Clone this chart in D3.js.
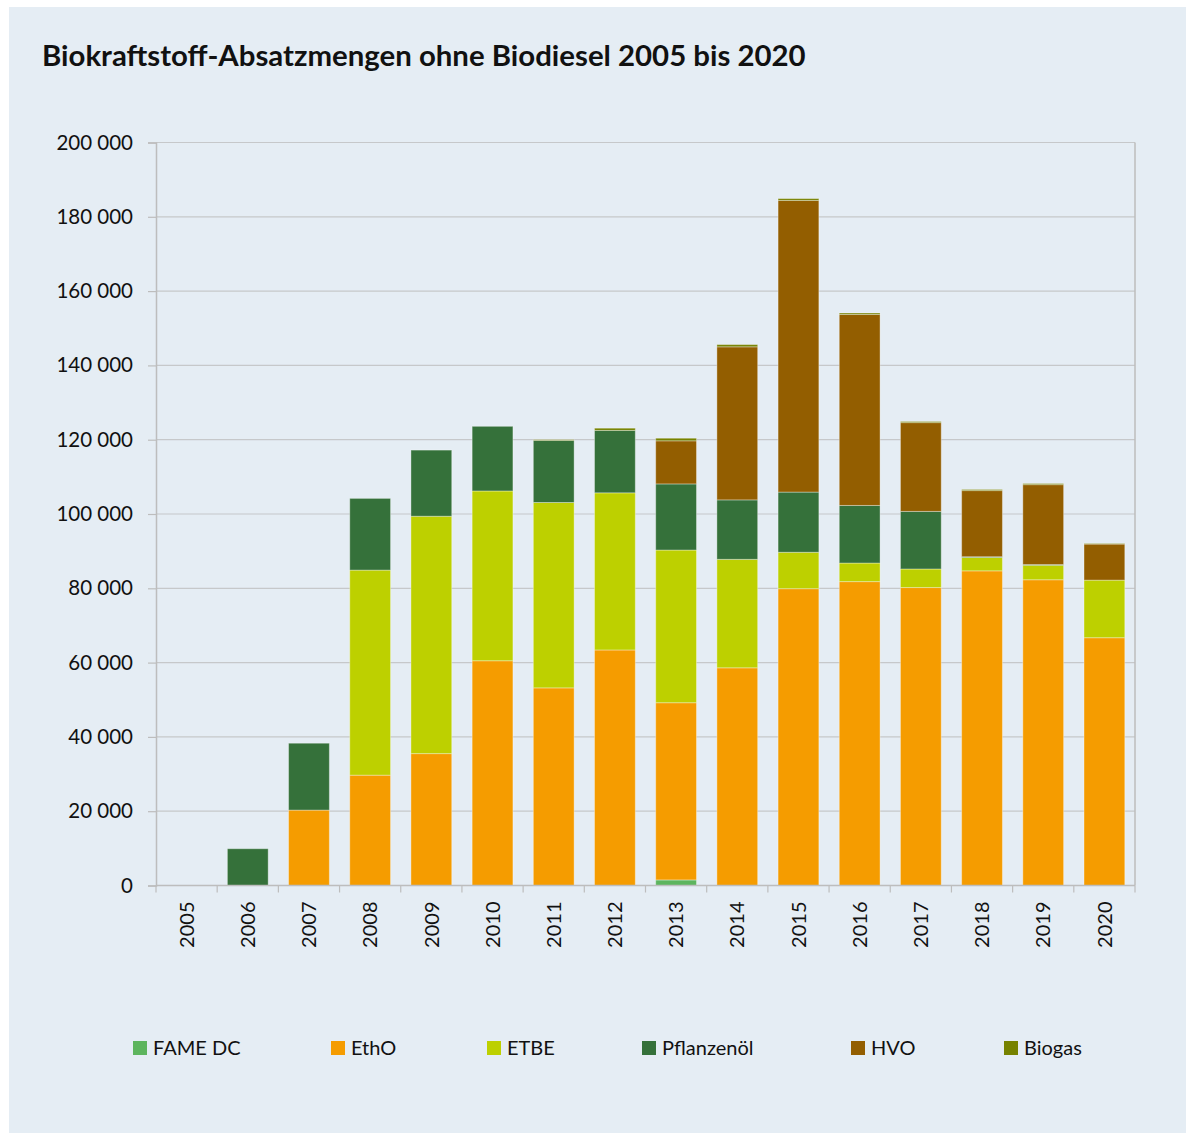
<!DOCTYPE html>
<html>
<head>
<meta charset="utf-8">
<script src="https://cdn.jsdelivr.net/npm/d3@7"></script>
<style>
  body { margin: 0; background: #fff; }
  svg { display: block; }
</style>
</head>
<body>
<div id="chart"></div>
<script>
// colours
const PANEL_BG = "#e5edf4"
const GRID = "#c6c8ca"
const AXIS = "#bdbdbd"
const TEXT = "#111"

const FAME_COL = "#5db55e"
const ETHO_COL = "#f59c00"
const ETBE_COL = "#bdd000"
const PFL_COL = "#35713a"
const HVO_COL = "#935e00"
const BIOGAS_COL = "#768200"

// data
var years = ["2005", "2006", "2007", "2008", "2009", "2010", "2011", "2012",
             "2013", "2014", "2015", "2016", "2017", "2018", "2019", "2020"];
var fameDC = [0, 0, 0, 0, 0, 0, 0, 0, 1500, 0, 0, 0, 0, 0, 0, 0];
var ethO = [0, 0, 20300, 29700, 35500, 60500, 53200, 63400, 47700, 58600, 79900, 81800, 80200, 84700, 82300, 66700];
var etbe = [0, 0, 0, 55200, 63900, 45700, 49900, 42300, 41100, 29200, 9800, 5000, 5000, 3600, 3900, 15500];
var pflanzenoel = [0, 9900, 18000, 19300, 17800, 17400, 16700, 16800, 17800, 16000, 16200, 15500, 15500, 200, 200, 0];
var hvo = [0, 0, 0, 0, 0, 0, 0, 0, 11600, 41200, 78500, 51400, 23900, 17800, 21500, 9700];
var biogas = [0, 0, 0, 0, 0, 0, 200, 600, 700, 600, 500, 400, 300, 300, 300, 150];

var seriesNames = ["FAME DC", "EthO", "ETBE", "Pflanzenöl", "HVO", "Biogas"];
var seriesValues = [fameDC, ethO, etbe, pflanzenoel, hvo, biogas];
var seriesColors = [FAME_COL, ETHO_COL, ETBE_COL, PFL_COL, HVO_COL, BIOGAS_COL];

var yTicks = [0, 20000, 40000, 60000, 80000, 100000, 120000, 140000, 160000, 180000, 200000];
var chartTitle = "Biokraftstoff-Absatzmengen ohne Biodiesel 2005 bis 2020";

var W = 1186, H = 1135;
var plot = {left: 156, right: 1135, top: 142.5, bottom: 885.5};
// left edge of each legend entry (Excel spaces them by its own font widths)
var legendLeft = [133, 331, 487, 642, 851, 1004];

var svg = d3.select("#chart").append("svg")
  .attr("width", W)
  .attr("height", H)
  .style("font-family", "Lato, 'Open Sans', sans-serif");

// light blue panel behind everything
svg.append("rect")
  .attr("x", 9).attr("y", 7)
  .attr("width", W - 9).attr("height", 1126)
  .attr("fill", PANEL_BG);

// title, fitted to the width it has in the original
var title = svg.append("text")
  .attr("x", 42).attr("y", 66)
  .attr("fill", TEXT)
  .style("font-weight", "bold")
  .style("font-size", "26px")
  .text(chartTitle);
var tw = title.node().getComputedTextLength();
title.style("font-size", (26 * 764 / tw) + "px");

// build the table for the stack
var table = years.map(function(yr, i) {
  var row = {year: yr};
  seriesNames.forEach(function(name, k) { row[name] = seriesValues[k][i]; });
  return row;
});
var stacked = d3.stack().keys(seriesNames)(table);

var x = d3.scaleBand()
  .domain(years)
  .range([plot.left, plot.right])
  .paddingInner(1 / 3)
  .paddingOuter(1 / 6);

var y = d3.scaleLinear()
  .domain([0, 200000])
  .range([plot.bottom, plot.top]);

var fmt = d3.formatLocale({decimal: ",", thousands: " ", grouping: [3], currency: ["", ""]}).format(",d");

// gridlines
svg.append("g")
  .selectAll("line")
  .data(yTicks.slice(1))
  .enter().append("line")
  .attr("x1", plot.left).attr("x2", plot.right)
  .attr("y1", function(d) { return y(d); })
  .attr("y2", function(d) { return y(d); })
  .attr("stroke", GRID)
  .attr("stroke-width", 1.2);

// right frame line
svg.append("line")
  .attr("x1", plot.right).attr("x2", plot.right)
  .attr("y1", plot.top).attr("y2", plot.bottom)
  .attr("stroke", AXIS).attr("stroke-width", 1.5);

// bars
svg.append("g")
  .selectAll("g")
  .data(stacked)
  .enter().append("g")
  .attr("fill", function(d, i) { return seriesColors[i]; })
  .selectAll("rect")
  .data(function(d) { return d.filter(function(s) { return s[1] - s[0] > 0; }); })
  .enter().append("rect")
  .attr("x", function(d) { return x(d.data.year); })
  .attr("y", function(d) { return y(d[1]); })
  .attr("width", x.bandwidth())
  .attr("height", function(d) { return y(d[0]) - y(d[1]); })
  .attr("stroke", "rgba(255,255,255,0.35)")
  .attr("stroke-width", 1);

// y axis
var yAxis = svg.append("g")
  .attr("transform", "translate(" + plot.left + ",0)")
  .call(d3.axisLeft(y).tickValues(yTicks).tickSize(8).tickPadding(15).tickFormat(fmt));
yAxis.select(".domain").attr("stroke", AXIS).attr("stroke-width", 1.5);
yAxis.selectAll(".tick line").attr("stroke", AXIS).attr("stroke-width", 1.2);
yAxis.selectAll(".tick text")
  .attr("fill", TEXT)
  .style("font-size", "20.5px")
  .style("font-family", "Lato, sans-serif");

// x axis: line, ticks between categories, rotated year labels
var step = x.step();
svg.append("line")
  .attr("x1", plot.left).attr("x2", plot.right)
  .attr("y1", plot.bottom).attr("y2", plot.bottom)
  .attr("stroke", AXIS).attr("stroke-width", 1.5);

var boundaries = years.map(function(yr) { return x(yr) - step * x.paddingInner() / 2; });
boundaries.push(plot.right);
svg.append("g")
  .selectAll("line")
  .data(boundaries)
  .enter().append("line")
  .attr("x1", function(d) { return d; })
  .attr("x2", function(d) { return d; })
  .attr("y1", plot.bottom).attr("y2", plot.bottom + 7)
  .attr("stroke", AXIS).attr("stroke-width", 1.2);

svg.append("g")
  .selectAll("text")
  .data(years)
  .enter().append("text")
  .attr("transform", function(d) {
    return "translate(" + (x(d) + x.bandwidth() / 2) + "," + (plot.bottom + 16) + ") rotate(-90)";
  })
  .attr("text-anchor", "end")
  .attr("dy", "0.36em")
  .attr("fill", TEXT)
  .style("font-size", "20px")
  .text(function(d) { return d; });

// legend
var legend = svg.append("g")
  .selectAll("g")
  .data(seriesNames)
  .enter().append("g")
  .attr("transform", function(d, i) { return "translate(" + legendLeft[i] + ",0)"; });
legend.append("rect")
  .attr("x", 0).attr("y", 1041)
  .attr("width", 14).attr("height", 14)
  .attr("fill", function(d, i) { return seriesColors[i]; });
legend.append("text")
  .attr("x", 20).attr("y", 1048)
  .attr("dy", "0.36em")
  .attr("fill", TEXT)
  .style("font-size", "20px")
  .text(function(d) { return d; });
</script>
</body>
</html>
